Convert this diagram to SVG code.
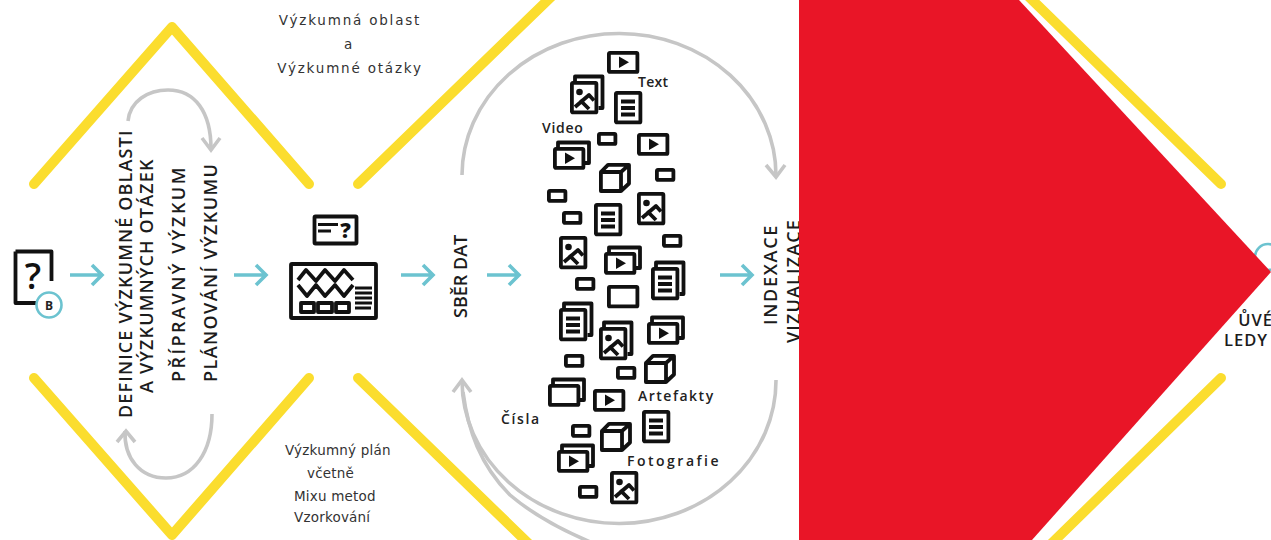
<svg xmlns="http://www.w3.org/2000/svg" width="1271" height="540" viewBox="0 0 1271 540">
<style>
.y{fill:none;stroke:#fbdd2e;stroke-width:10;stroke-linecap:round;stroke-linejoin:round}
.g{fill:none;stroke:#c6c6c6;stroke-width:3.6}
.c{fill:none;stroke:#6cc3d0;stroke-width:3.6}
.k{fill:none;stroke:#111;stroke-width:3.800;stroke-linejoin:round}
.l{fill:#111;stroke:none}
.s{font-family:"DejaVu Sans","Liberation Sans",sans-serif;font-size:13.500px;fill:#333;letter-spacing:1.800px}
.p{font-family:"DejaVu Sans","Liberation Sans",sans-serif;font-size:13.500px;fill:#333;letter-spacing:.2px}
.b{font-family:"Open Sans","Noto Sans",sans-serif;font-size:18px;font-weight:600;fill:#1c1c1c;letter-spacing:1.150px}
.e{font-family:"Open Sans","Noto Sans",sans-serif;font-size:16.500px;font-weight:600;fill:#1c1c1c;letter-spacing:1px}
.m{font-family:"Open Sans","Noto Sans",sans-serif;font-size:14px;font-weight:600;fill:#222;letter-spacing:1px}
</style>
<defs>
<g id="sm"><rect class="k" x="1.900" y="1.900" width="16.500" height="10" rx="1"/></g>
<g id="vid"><rect class="k" x="1.900" y="1.900" width="28.500" height="19" rx="1"/><path class="l" d="M12 5.500 L22 11.300 L12 17 Z"/></g>
<g id="doc"><rect class="k" x="1.900" y="1.900" width="24.500" height="29.500" rx="1"/><path class="k" d="M7 10.500H21M7 17H21M7 23.500H21"/></g>
<g id="pho"><rect class="k" x="1.900" y="1.900" width="24.500" height="29.500" rx="1"/><circle class="l" cx="9.500" cy="11" r="3.300"/><path class="k" d="M5 26 L19 14 L24 19.500 M10 19 L19 28"/></g>
<g id="cube"><path class="k" d="M1.900 9 H22 V28 H1.900 Z M1.900 9 L9 1.900 H30 L22 9 M30 1.900 V20.500 L22 28"/></g>
<g id="bk1"><path class="k" d="M5 0 V-4.500 H36 V16 H32"/></g>
<g id="bkd"><path class="k" d="M5 0 V-4.500 H32.500 V27 H28.500"/></g>
</defs>
<g id="connectors">
<path class="y" d="M34 184 L172 27 L309 184"/>
<path class="y" d="M34 378 L172 535 L309 378"/>
<path class="y" d="M358 184 L552 -4"/>
<path class="y" d="M358 378 L530 545"/>
<path class="y" d="M1024 -8 L1221 184"/>
<path class="y" d="M1221 378 L1050 545"/>
<path class="g" d="M128 121 C130 101 148 90 168 90 C195 90 211 112 211 149"/>
<path class="g" d="M202 138 L211 150 L220 138"/>
<path class="g" d="M212 414 C212 452 194 478 166 478 C140 478 124 458 125 431"/>
<path class="g" d="M117 442 L126 431 L135 442"/>
<path class="g" d="M462 175 A157 142 0 0 1 776 176"/>
<path class="g" d="M766 165 L776 177 L785 165"/>
<path class="g" d="M776 380 A157 143 0 0 1 462 381"/>
<path class="g" d="M453 392 L462 380 L471 392"/>
<path class="g" d="M463 392 C468 430 480 465 510 495 C530 512 560 530 600 546"/>
<g id="arrows">
<path class="c" d="M70 275H102M92 265L102 275L92 285"/>
<path class="c" d="M234 275H266M256 265L266 275L256 285"/>
<path class="c" d="M401 275H433M423 265L433 275L423 285"/>
<path class="c" d="M487 275H519M509 265L519 275L509 285"/>
<path class="c" d="M720 275H752M742 265L752 275L742 285"/>
</g>
</g>
<g id="node-question">
<path d="M15.500 251.500H51.500V281M15.500 251.500V303H36" fill="none" stroke="#111" stroke-width="3.800" stroke-linejoin="round"/>
<text x="33" y="289" font-family="Open Sans,sans-serif" font-size="36" font-weight="600" fill="#111" text-anchor="middle">?</text>
<circle cx="49" cy="305" r="12.500" fill="#fff" stroke="#6cc3d0" stroke-width="2.600"/>
<text x="49" y="310" font-family="Open Sans,sans-serif" font-size="12" font-weight="700" fill="#222" text-anchor="middle">B</text>
</g>
<g id="node-labels-left">
<text class="b" transform="translate(132,418) rotate(-90)">DEFINICE VÝZKUMNÉ OBLASTI</text>
<text class="b" transform="translate(153,393) rotate(-90)">A VÝZKUMNÝCH OTÁZEK</text>
<text class="b" transform="translate(185,382) rotate(-90)" style="letter-spacing:2.500px">PŘÍPRAVNÝ VÝZKUM</text>
<text class="b" transform="translate(217,382) rotate(-90)" style="letter-spacing:1.400px">PLÁNOVÁNÍ VÝZKUMU</text>
</g>
<g id="node-plan">
<rect x="314.500" y="216.500" width="42" height="27" fill="none" stroke="#111" stroke-width="3.800" rx="1"/>
<path d="M318 224.500H338M318 231H331" fill="none" stroke="#111" stroke-width="3"/>
<text x="345.500" y="238" font-family="Open Sans,sans-serif" font-size="21" font-weight="800" fill="#111" text-anchor="middle">?</text>
<rect x="291" y="264" width="85" height="54" fill="none" stroke="#111" stroke-width="3.800" rx="1"/>
<path class="k" d="M298 280L306 270L316 281L325 270L335 281L344 270L353 280M298 285L307 296L316 285L325 296L335 285L344 296L353 285"/>
<rect class="k" x="301" y="303" width="13" height="9"/><rect class="k" x="318" y="303" width="14" height="9"/><rect class="k" x="336" y="303" width="13" height="9"/>
<path d="M355 288H372M355 293H372M355 298H372M355 303H372M355 308H371" fill="none" stroke="#111" stroke-width="3"/>
</g>
<g id="node-labels-top">
<text class="s" x="350" y="25" text-anchor="middle">Výzkumná oblast</text>
<text class="s" x="349" y="49" text-anchor="middle">a</text>
<text class="s" x="350" y="73" text-anchor="middle">Výzkumné otázky</text>
<text class="p" x="285" y="455">Výzkumný plán</text>
<text class="p" x="307" y="478">včetně</text>
<text class="p" x="294" y="501">Mixu metod</text>
<text class="p" x="294" y="522">Vzorkování</text>
</g>
<g id="node-sber"><text class="b" transform="translate(467,318) rotate(-90)" style="letter-spacing:0">SBĚR DAT</text></g>
<g id="node-index">
<text class="b" transform="translate(777,325) rotate(-90)" style="letter-spacing:1.700px">INDEXACE</text>
<text class="b" transform="translate(800,343) rotate(-90)">VIZUALIZACE</text>
</g>
<g id="node-icons">
<use href="#vid" x="607" y="51"/>
<use href="#bkd" x="570" y="81"/><use href="#pho" x="570" y="81"/>
<use href="#doc" x="614" y="91"/>
<use href="#sm" x="597" y="132"/>
<use href="#vid" x="637" y="133"/>
<use href="#bk1" x="553" y="147"/><use href="#vid" x="553" y="147"/>
<use href="#cube" x="599" y="163"/>
<use href="#sm" x="655" y="168"/>
<use href="#sm" x="547" y="189"/>
<use href="#pho" x="637" y="192"/>
<use href="#doc" x="594" y="203"/>
<use href="#sm" x="562" y="211"/>
<use href="#sm" x="662" y="234"/>
<use href="#pho" x="559" y="236"/>
<use href="#bk1" x="604" y="252"/><use href="#vid" x="604" y="252"/>
<use href="#bkd" x="651" y="267"/><use href="#doc" x="651" y="267"/>
<use href="#sm" x="575" y="277"/>
<rect class="k" x="608.900" y="286.900" width="28.500" height="19.500" rx="1"/>
<use href="#bkd" x="559" y="308"/><use href="#doc" x="559" y="308"/>
<use href="#bk1" x="647" y="322"/><use href="#vid" x="647" y="322"/>
<use href="#bkd" x="599" y="327"/><use href="#pho" x="599" y="327"/>
<use href="#sm" x="564" y="354"/>
<use href="#cube" x="644" y="354"/>
<use href="#sm" x="616" y="366"/>
<use href="#bk1" x="548" y="384"/><rect class="k" x="549.900" y="385.900" width="28.500" height="19" rx="1"/>
<use href="#vid" x="593" y="389"/>
<use href="#doc" x="642" y="410"/>
<use href="#cube" x="600" y="422"/>
<use href="#sm" x="571" y="424"/>
<use href="#bk1" x="557" y="450"/><use href="#vid" x="557" y="450"/>
<use href="#pho" x="610" y="471"/>
<use href="#sm" x="578" y="485"/>
</g>
<g id="node-icon-labels">
<text class="m" x="638" y="87" style="letter-spacing:.3px">Text</text>
<text class="m" x="542" y="133" style="letter-spacing:.7px">Video</text>
<text class="m" x="638" y="401" style="letter-spacing:1.500px">Artefakty</text>
<text class="m" x="501" y="424" style="letter-spacing:1.600px">Čísla</text>
<text class="m" x="627" y="466" style="letter-spacing:2.500px">Fotografie</text>
</g>
<g id="node-end">
<circle cx="1268" cy="257" r="13" fill="#fff" stroke="#6cc3d0" stroke-width="2.600"/>
<text class="e" x="1273" y="326" text-anchor="end">ŮVÉ</text>
<text class="e" x="1268" y="346" text-anchor="end">LEDY</text>
</g>
<g id="node-red"><polygon points="799,0 1019,0 1271,272 1032,540 799,540" fill="#e91527"/></g>
</svg>
